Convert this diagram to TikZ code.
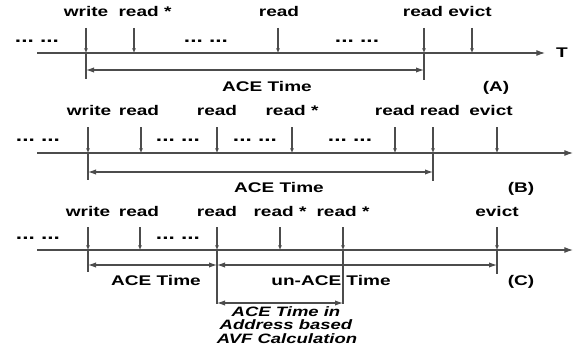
\documentclass[tikz,border=0pt]{standalone}
\usepackage{fontspec}
\newfontfamily\labf[FakeStretch=1.36]{Liberation Sans}
\usetikzlibrary{arrows.meta}
\begin{document}
\begin{tikzpicture}[x=0.75pt,y=-0.75pt,
 lab/.style={font=\labf\bfseries\fontsize{10.5}{12}\selectfont, inner sep=0pt, anchor=base},
 ital/.style={font=\labf\bfseries\itshape\fontsize{10.2}{12}\selectfont, inner sep=0pt, anchor=base},
 dots/.style={font=\labf\bfseries\fontsize{12.5}{14}\selectfont, inner sep=0pt},
 ln/.style={line width=0.8pt, draw=black!70},
 axis/.style={ln, -{Latex[length=6.5pt,width=4.5pt]}},
 tick/.style={ln, -{Latex[length=3.5pt,width=3pt]}},
 span/.style={ln, {Latex[length=6pt,width=4pt]}-{Latex[length=6pt,width=4pt]}}]
\useasboundingbox (0,0) rectangle (580,349);

% ---------------- Row A ----------------
\coordinate (A0) at (37,53); \coordinate (Aend) at (545,53);
\draw[axis] (A0) -- (Aend);
\node[lab, anchor=center] (AT) at (562,53) {T};
\foreach \n/\x in {1/86,2/134,3/278,4/424,5/472}{
  \coordinate (A\n t) at (\x,28); \coordinate (A\n b) at (\x,53);
  \draw[tick] (A\n t) -- (A\n b);
}
\coordinate (A1v) at (86,79); \coordinate (A4v) at (424,80);
\draw[ln] (A1b) -- (A1v); \draw[ln] (A4b) -- (A4v);
\coordinate (A1s) at (86,70); \coordinate (A4s) at (424,70);
\draw[span] (A1s) -- (A4s);
\node[lab] (LA1) at (86,17) {write};
\node[lab] (LA2) at (145,17) {read *};
\node[lab] (LA3) at (279,17) {read};
\node[lab] (LA4) at (423,17) {read};
\node[lab] (LA5) at (470,17) {evict};
\node[lab] (ACEA) at (267,92) {ACE Time};
\node[lab] (capA) at (496,92) {(A)};
\node[dots] (dA1) at (37,41) {...~...};
\node[dots] (dA2) at (206,41) {...~...};
\node[dots] (dA3) at (357,41) {...~...};

% ---------------- Row B ----------------
\coordinate (B0) at (37,153); \coordinate (Bend) at (573,153);
\draw[axis] (B0) -- (Bend);
\foreach \n/\x in {1/88,2/141,3/217,4/292,5/395,6/433,7/497}{
  \coordinate (B\n t) at (\x,127); \coordinate (B\n b) at (\x,153);
  \draw[tick] (B\n t) -- (B\n b);
}
\coordinate (B1v) at (88,180); \coordinate (B6v) at (433,181);
\draw[ln] (B1b) -- (B1v); \draw[ln] (B6b) -- (B6v);
\coordinate (B1s) at (88,172); \coordinate (B6s) at (433,172);
\draw[span] (B1s) -- (B6s);
\node[lab] (LB1) at (89,115) {write};
\node[lab] (LB2) at (139,115) {read};
\node[lab] (LB3) at (217,115) {read};
\node[lab] (LB4) at (292,115) {read *};
\node[lab] (LB5) at (395,115) {read};
\node[lab] (LB6) at (440,115) {read};
\node[lab] (LB7) at (491,115) {evict};
\node[lab] (ACEB) at (279,192) {ACE Time};
\node[lab] (capB) at (521,192) {(B)};
\node[dots] (dB1) at (38,140) {...~...};
\node[dots] (dB2) at (178,140) {...~...};
\node[dots] (dB3) at (255,140) {...~...};
\node[dots] (dB4) at (350,140) {...~...};

% ---------------- Row C ----------------
\coordinate (C0) at (37,250); \coordinate (Cend) at (573,250);
\draw[axis] (C0) -- (Cend);
\foreach \n/\x in {1/88,2/140,3/217,4/280,5/343,6/497}{
  \coordinate (C\n t) at (\x,227); \coordinate (C\n b) at (\x,250);
  \draw[tick] (C\n t) -- (C\n b);
}
\coordinate (C1v) at (88,272); \coordinate (C6v) at (497,274);
\coordinate (C3v) at (217,304); \coordinate (C5v) at (343,304);
\draw[ln] (C1b) -- (C1v); \draw[ln] (C6b) -- (C6v);
\draw[ln] (C3b) -- (C3v); \draw[ln] (C5b) -- (C5v);
\coordinate (C1s) at (88,265); \coordinate (C3s) at (217,265); \coordinate (C6s) at (497,265);
\draw[span] (C1s) -- (C3s);
\draw[span] (C3s) -- (C6s);
\coordinate (C3u) at (217,303); \coordinate (C5u) at (343,303);
\draw[span] (C3u) -- (C5u);
\node[lab] (LC1) at (88,216) {write};
\node[lab] (LC2) at (139,216) {read};
\node[lab] (LC3) at (217,216) {read};
\node[lab] (LC4) at (280,216) {read *};
\node[lab] (LC5) at (343,216) {read *};
\node[lab] (LC6) at (497,216) {evict};
\node[lab] (ACEC) at (156,285) {ACE Time};
\node[lab] (unACE) at (331,285) {un-ACE Time};
\node[lab] (capC) at (521,285) {(C)};
\node[ital] (it1) at (286,316) {ACE Time in};
\node[ital] (it2) at (286,329) {Address based};
\node[ital] (it3) at (287,343) {AVF Calculation};
\node[dots] (dC1) at (38,238) {...~...};
\node[dots] (dC2) at (178,238) {...~...};
\end{tikzpicture}
\end{document}
